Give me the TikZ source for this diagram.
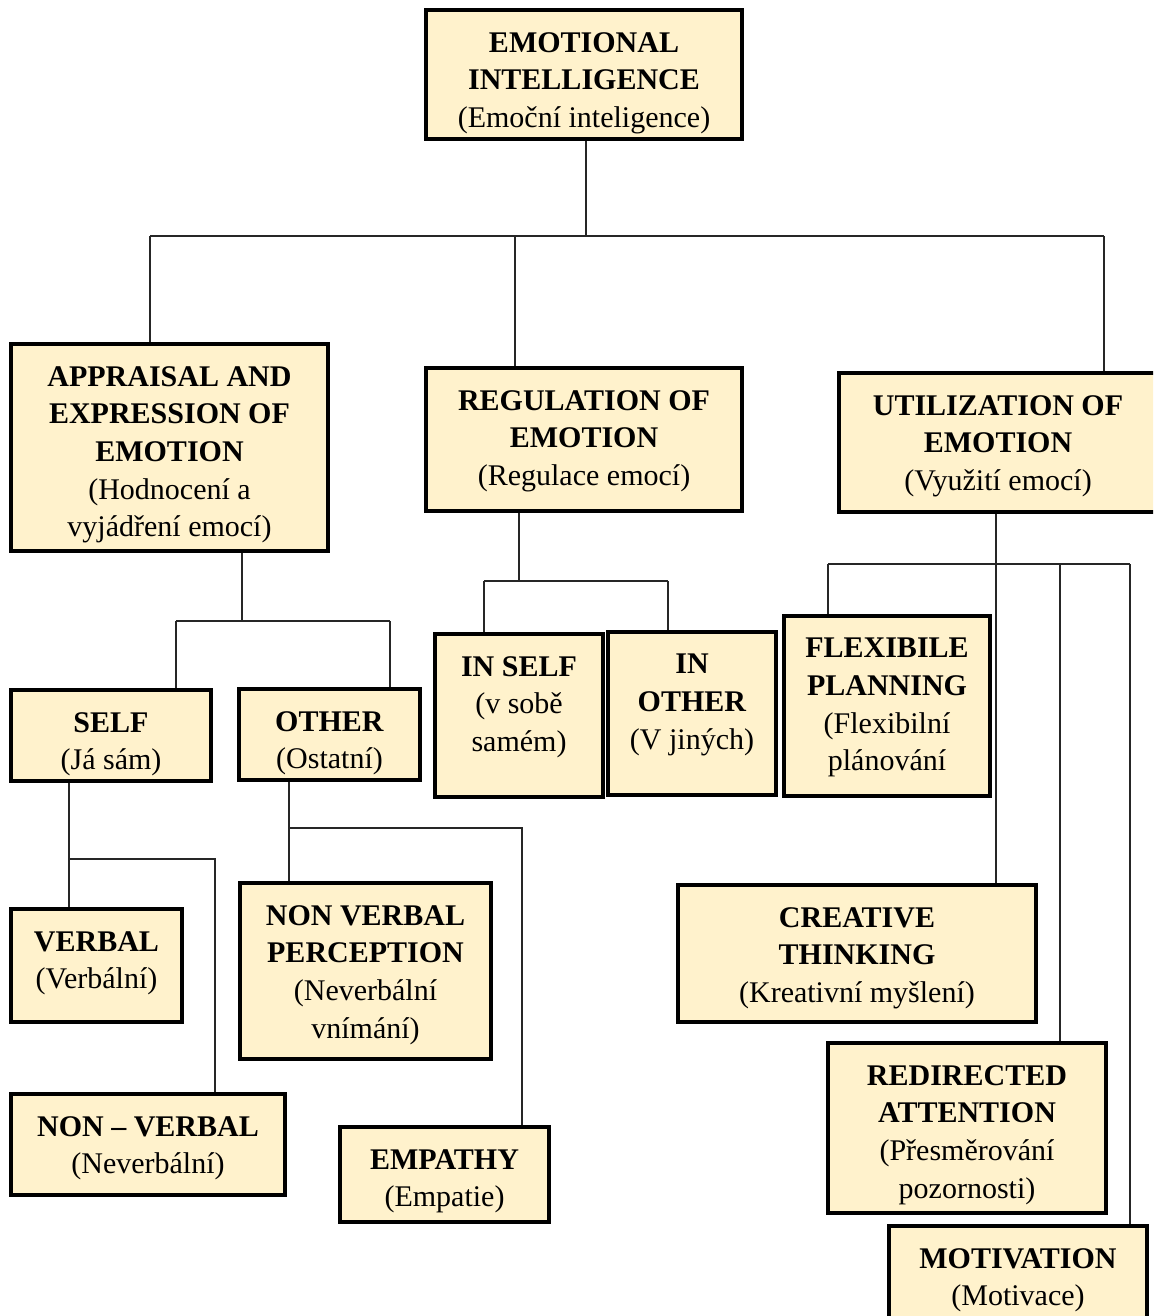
\documentclass[tikz,border=0pt]{standalone}
\usepackage{fontspec}
\setmainfont{Liberation Serif}
\definecolor{cream}{HTML}{FFF2CC}
\tikzset{
  ebox/.style={draw=black, line width=3.2pt, fill=cream, inner sep=0pt},
  etext/.style={align=center, inner sep=0pt, font=\fontsize{30}{37.7}\selectfont},
  conn/.style={draw=black!85, line width=1.4pt}
}
\newcommand\mkbox[6]{%
  \node[ebox, minimum width={#4-#2}, minimum height={#5-#3}] (#1) at ({(#2+#4)/2},{(#3+#5)/2}) {};
  \node[etext, anchor=north] (#1-t) at ({(#2+#4)/2},{#3+22}) {#6};
}
\begin{document}
\begin{tikzpicture}[x=1pt,y=-1pt]
\useasboundingbox (0,0) rectangle (1153,1316);
\clip (0,0) rectangle (1153,1316);
\fill[white] (0,0) rectangle (1153,1316);

% boxes
\mkbox{ei}{426}{10}{742}{139}{\textbf{EMOTIONAL}\\\textbf{INTELLIGENCE}\\(Emoční inteligence)}
\mkbox{app}{11}{344}{328}{551}{\textbf{APPRAISAL AND}\\\textbf{EXPRESSION OF}\\\textbf{EMOTION}\\(Hodnocení a\\vyjádření emocí)}
\mkbox{reg}{426}{368}{742}{511}{\textbf{REGULATION OF}\\\textbf{EMOTION}\\(Regulace emocí)}
\mkbox{util}{839}{373}{1157}{512}{\textbf{UTILIZATION OF}\\\textbf{EMOTION}\\(Využití emocí)}
\mkbox{self}{11}{690}{211}{781}{\textbf{SELF}\\(Já sám)}
\mkbox{other}{239}{689}{420}{780}{\textbf{OTHER}\\(Ostatní)}
\mkbox{verbal}{11}{909}{182}{1022}{\textbf{VERBAL}\\(Verbální)}
\mkbox{nonverbal}{11}{1094}{285}{1195}{\textbf{NON – VERBAL}\\(Neverbální)}
\mkbox{nvp}{240}{883}{491}{1059}{\textbf{NON VERBAL}\\\textbf{PERCEPTION}\\(Neverbální\\vnímání)}
\mkbox{emp}{340}{1127}{549}{1222}{\textbf{EMPATHY}\\(Empatie)}
\mkbox{inself}{435}{634}{603}{797}{\textbf{IN SELF}\\(v sobě\\samém)}
\mkbox{inother}{608}{632}{776}{795}{\textbf{IN}\\\textbf{OTHER}\\(V jiných)}
\mkbox{flex}{784}{616}{990}{796}{\textbf{FLEXIBILE}\\\textbf{PLANNING}\\(Flexibilní\\plánování}
\mkbox{creat}{678}{885}{1036}{1022}{\textbf{CREATIVE}\\\textbf{THINKING}\\(Kreativní myšlení)}
\mkbox{redir}{828}{1043}{1106}{1213}{\textbf{REDIRECTED}\\\textbf{ATTENTION}\\(Přesměrování\\pozornosti)}
\mkbox{motiv}{889}{1226}{1147}{1340}{\textbf{MOTIVATION}\\(Motivace)}

% junction coordinates
\coordinate (tb) at (586,236);
\coordinate (tL) at (150,236);
\coordinate (tM) at (515,236);
\coordinate (tR) at (1104,236);
\coordinate (aJ) at (242,621);
\coordinate (aL) at (176,621);
\coordinate (aR) at (390,621);
\coordinate (sJ) at (69,859);
\coordinate (sR) at (215,859);
\coordinate (oJ) at (289,828);
\coordinate (oR) at (522,828);
\coordinate (rJ) at (519,581);
\coordinate (rL) at (484,581);
\coordinate (rR) at (668,581);
\coordinate (uJ) at (996,564);
\coordinate (uL) at (828,564);
\coordinate (uX) at (1060,564);
\coordinate (uR) at (1130,564);

% connectors
\draw[conn] (tb |- ei.south) -- (tb);
\draw[conn] (tL) -- (tR);
\draw[conn] (tL) -- (tL |- app.north);
\draw[conn] (tM) -- (tM |- reg.north);
\draw[conn] (tR) -- (tR |- util.north);

\draw[conn] (aJ |- app.south) -- (aJ);
\draw[conn] (aL) -- (aR);
\draw[conn] (aL) -- (aL |- self.north);
\draw[conn] (aR) -- (aR |- other.north);

\draw[conn] (sJ |- self.south) -- (sJ |- verbal.north);
\draw[conn] (sJ) -- (sR) -- (sR |- nonverbal.north);

\draw[conn] (oJ |- other.south) -- (oJ |- nvp.north);
\draw[conn] (oJ) -- (oR) -- (oR |- emp.north);

\draw[conn] (rJ |- reg.south) -- (rJ);
\draw[conn] (rL) -- (rR);
\draw[conn] (rL) -- (rL |- inself.north);
\draw[conn] (rR) -- (rR |- inother.north);

\draw[conn] (uJ |- util.south) -- (uJ |- creat.north);
\draw[conn] (uL) -- (uR);
\draw[conn] (uL) -- (uL |- flex.north);
\draw[conn] (uX) -- (uX |- redir.north);
\draw[conn] (uR) -- (uR |- motiv.north);
\end{tikzpicture}
\end{document}
